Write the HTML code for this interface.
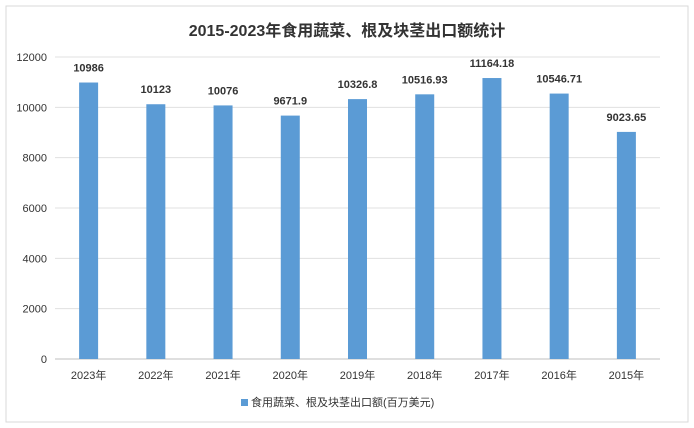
<!DOCTYPE html>
<html><head><meta charset="utf-8"><style>
body{margin:0;background:#fff;}
svg{display:block;font-family:"Liberation Sans","Noto Sans CJK SC",sans-serif;}
</style></head><body>
<svg id="c" width="694" height="428">
<rect x="6" y="6" width="682" height="416" fill="#fff" stroke="#d9d9d9"/>
<text x="347" y="36" text-anchor="middle" font-size="16" font-weight="bold" fill="#333">2015-2023年食用蔬菜、根及块茎出口额统计</text>
<g id="grid"></g><g id="bars"></g>
<rect x="241" y="399" width="7" height="7" fill="#5b9bd5"/>
<text x="251" y="406" font-size="11" fill="#333">食用蔬菜、根及块茎出口额(百万美元)</text>
</svg>
<script>
const categories=["2023年","2022年","2021年","2020年","2019年","2018年","2017年","2016年","2015年"];
const values=[10986,10123,10076,9671.9,10326.8,10516.93,11164.18,10546.71,9023.65];
const labels=["10986","10123","10076","9671.9","10326.8","10516.93","11164.18","10546.71","9023.65"];
const ticks=[0,2000,4000,6000,8000,10000,12000];
const NS="http://www.w3.org/2000/svg";
const x0=55,x1=660,yTop=57,yBot=359,max=12000;
const y=v=>yBot-(v/max)*(yBot-yTop);
const band=(x1-x0)/categories.length;
const xc=i=>x0+band*(i+0.5);
function mk(t,a,txt){const e=document.createElementNS(NS,t);for(const k in a)e.setAttribute(k,a[k]);if(txt!=null)e.textContent=txt;return e;}
const g=document.getElementById('grid'),b=document.getElementById('bars');
ticks.forEach(t=>{
 const l=mk('line',{x1:x0,x2:x1,y1:y(t),y2:y(t),stroke:t===0?'#bfbfbf':'#e0e0e0'});
 
 
 g.appendChild(l);
 const tx=mk('text',{x:47,y:y(t)+4,'text-anchor':'end','font-size':11,fill:'#333'},String(t));
 
 
 g.appendChild(tx);
});
categories.forEach((c,i)=>{
 const w=19;
 const r=mk('rect',{x:xc(i)-w/2,y:y(values[i]),width:w,height:yBot-y(values[i]),fill:'#5b9bd5'});
 
 
 b.appendChild(r);
 const v=mk('text',{x:xc(i),y:y(values[i])-11,'text-anchor':'middle','font-size':11,'font-weight':'bold',fill:'#333'},labels[i]);
 
 
 b.appendChild(v);
 const cl=mk('text',{x:xc(i),y:yBot+20,'text-anchor':'middle','font-size':11,fill:'#333'},c);
 
 
 b.appendChild(cl);
});
</script>
</body></html>
